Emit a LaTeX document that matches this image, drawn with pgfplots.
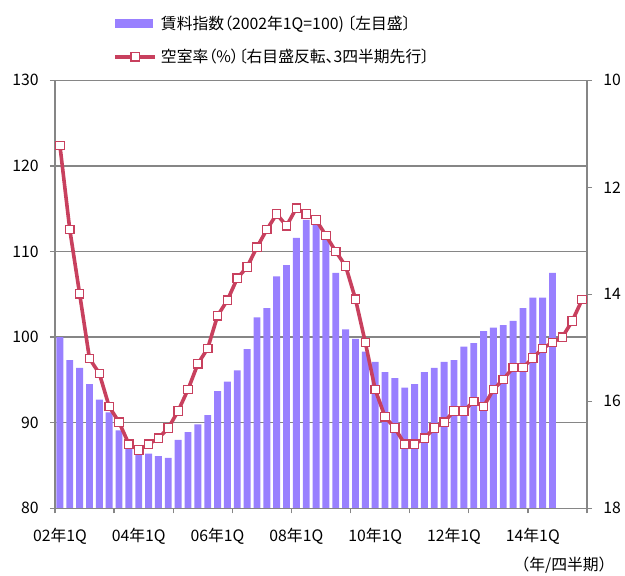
\documentclass[border=0pt]{standalone}
\usepackage{pgfplots}
\pgfplotsset{compat=1.18}
\usepackage{pgfplotstable}
\usepackage{fontspec}
\setmainfont{Noto Sans CJK JP}[RawFeature=+palt]
\newfontfamily\cjkfull{Noto Sans CJK JP}
\definecolor{barc}{RGB}{153,128,255}
\definecolor{linec}{RGB}{200,64,94}
\definecolor{axc}{RGB}{134,134,134}
\pgfplotsset{linelegend/.style={legend image code/.code={\draw[mark repeat=2,mark phase=2,##1] plot coordinates {(0pt,0pt) (10pt,0pt) (20pt,0pt)};}}}

\pgfplotstableread{
x y
0 100.0
1 97.3
2 96.4
3 94.5
4 92.7
5 91.2
6 89.1
7 87.0
8 86.2
9 86.4
10 86.1
11 85.9
12 88.0
13 88.9
14 89.8
15 90.9
16 93.7
17 94.8
18 96.1
19 98.6
20 102.3
21 103.4
22 107.1
23 108.4
24 111.6
25 113.7
26 113.1
27 111.5
28 107.5
29 100.9
30 99.8
31 98.3
32 97.1
33 95.9
34 95.2
35 94.1
36 94.5
37 95.9
38 96.4
39 97.1
40 97.3
41 98.9
42 99.3
43 100.7
44 101.1
45 101.4
46 101.9
47 103.4
48 104.6
49 104.6
50 107.5
}\rent

\pgfplotstableread{
x y
0 11.22
1 12.79
2 13.99
3 15.20
4 15.48
5 16.10
6 16.39
7 16.80
8 16.91
9 16.80
10 16.69
11 16.50
12 16.18
13 15.78
14 15.30
15 15.01
16 14.40
17 14.11
18 13.70
19 13.49
20 13.12
21 12.79
22 12.50
23 12.72
24 12.39
25 12.50
26 12.61
27 12.90
28 13.20
29 13.47
30 14.09
31 14.90
32 15.78
33 16.29
34 16.50
35 16.80
36 16.80
37 16.69
38 16.50
39 16.39
40 16.18
41 16.18
42 16.00
43 16.10
44 15.78
45 15.59
46 15.37
47 15.37
48 15.19
49 15.01
50 14.90
51 14.80
52 14.50
53 14.10
}\vacancy

\begin{document}
\fontsize{7.9pt}{9.5pt}\selectfont
\begin{tikzpicture}
\begin{axis}[
  at={(0,0)}, anchor=south west,
  scale only axis, width=266pt, height=214pt,
  xmin=-0.5, xmax=53.5, ymin=80, ymax=130,
  ytick={80,90,100,110,120,130},
  ymajorgrids, grid style={axc, line width=0.65pt},
  axis line style={axc, line width=0.65pt},
  tick style={axc, line width=0.65pt},
  tick align=outside, major tick length=2.5pt,
  ytick pos=left, xtick pos=bottom,
  xtick={-0.5,5.5,11.5,17.5,23.5,29.5,35.5,41.5,47.5,53.5},
  xticklabels={},
  extra x ticks={0,8,16,24,32,40,48},
  extra x tick labels={02年1Q,04年1Q,06年1Q,08年1Q,10年1Q,12年1Q,14年1Q},
  extra x tick style={major tick length=0pt, grid=none},
  xticklabel style={anchor=north, inner sep=0pt, yshift=-9.5pt},
  /pgf/number format/assume math mode=true,
  yticklabel style={anchor=east, inner sep=0pt, xshift=-5.5pt},
  legend style={draw=none, fill=none, inner sep=0pt,
    at={(axis description cs:0.109,1.026)}, anchor=south west,
    row sep=4.5pt, font=\fontsize{7.9pt}{9.5pt}\selectfont},
  legend cell align=left,
]
\addplot[ybar, bar width=0.7, fill=barc, draw=none,
  legend image code/.code={\fill[barc] (0pt,-2.25pt) rectangle (19pt,2.25pt);}]
  table[x=x, y=y] {\rent};
\addlegendentry{賃料指数（2002年1Q=100) 〔左目盛〕}
\addlegendimage{linec, line width=1.8pt, mark=square*,
  mark options={fill=white, draw=linec, line width=0.6pt, solid}, mark size=2.1pt,
  linelegend}
\addlegendentry{空室率（\%）〔右目盛反転、3四半期先行〕}
\end{axis}
\begin{axis}[
  at={(0,0)}, anchor=south west,
  scale only axis, width=266pt, height=214pt,
  xmin=-0.5, xmax=53.5, ymin=10, ymax=18, y dir=reverse,
  ytick={10,12,14,16,18}, ytick pos=right,
  xtick=\empty,
  axis line style={axc, line width=0.65pt},
  tick style={axc, line width=0.65pt},
  tick align=outside, major tick length=2.5pt,
  /pgf/number format/assume math mode=true,
  yticklabel style={anchor=west, inner sep=0pt, xshift=5.5pt},
]
\addplot[linec, line width=1.8pt, mark=square*,
  mark options={fill=white, draw=linec, line width=0.6pt, solid}, mark size=2.1pt]
  table[x=x, y=y] {\vacancy};
\end{axis}
\node at (254.5pt,-28.6pt) {\cjkfull （年/四半期）};
\pgfresetboundingbox
\useasboundingbox (-27.5pt,-33.35pt) rectangle (285pt,254.15pt);
\end{tikzpicture}
\end{document}
